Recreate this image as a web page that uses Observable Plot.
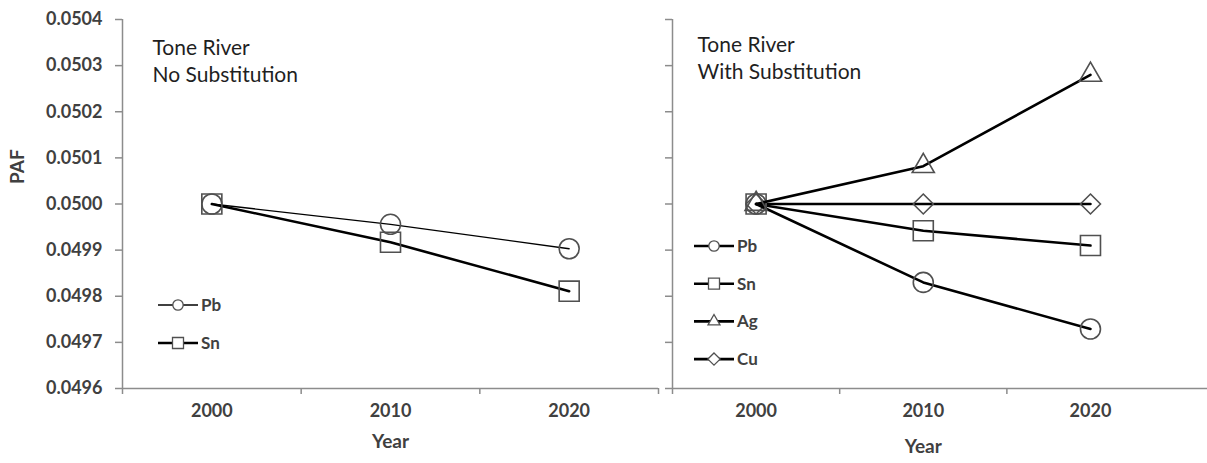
<!DOCTYPE html>
<html>
<head>
<meta charset="utf-8">
<script src="https://cdn.jsdelivr.net/npm/d3@7"></script>
<script src="https://cdn.jsdelivr.net/npm/@observablehq/plot@0.6"></script>
<style>
  html, body { margin: 0; padding: 0; background: #fff; overflow: hidden; }
  #chart { position: relative; width: 1207px; height: 463px; overflow: hidden; font-family: Lato, "Open Sans", sans-serif; }
  #chart > .panel { position: absolute; top: 0; max-width: none; }
  #legend { position: absolute; left: 0; top: 0; pointer-events: none; }
</style>
</head>
<body>
<div id="chart"></div>
<script>
// ---- data ----
const years = [2000, 2010, 2020];
const yTicks = [0.0496, 0.0497, 0.0498, 0.0499, 0.0500, 0.0501, 0.0502, 0.0503, 0.0504];
const xLabelTicks = [2000, 2010, 2020];

// Left panel: Tone River, No Substitution
const noSubPb = [0.0500, 0.049956, 0.049903];
const noSubSn = [0.0500, 0.049917, 0.049811];

// Right panel: Tone River, With Substitution
const subPb = [0.0500, 0.049830, 0.049729];
const subSn = [0.0500, 0.049942, 0.049910];
const subAg = [0.0500, 0.050082, 0.050280];
const subCu = [0.0500, 0.050000, 0.050000];

const leftTitle = "Tone River\nNo Substitution";
const rightTitle = "Tone River\nWith Substitution";

// ---- styling ----
const axisGray = "#8c8c8c";
const textGray = "#404040";
const markerStroke = "#505050";
const symbolR = {circle: 10, square: 11.3, triangle: 8.2, diamond2: 9};

function rows(vals, name) { return years.map((yr, i) => ({year: yr, value: vals[i], name})); }

function seriesMarks(vals, name, symbol, lineWidth) {
  const d = rows(vals, name);
  return [
    Plot.line(d, {x: "year", y: "value", stroke: "#000", strokeWidth: lineWidth}),
    Plot.dot(d, {x: "year", y: "value", symbol: symbol, r: symbolR[symbol], fill: "none", stroke: markerStroke, strokeWidth: 1.6})
  ];
}

function frameMarks(showLabels, xTickMarks, xDomain) {
  return [
    Plot.axisY({ticks: yTicks, tickSize: 7, tickPadding: 13, stroke: axisGray, strokeWidth: 1.5,
      tickFormat: showLabels ? d3.format(".4f") : () => "",
      fill: textGray, fontSize: 18, fontWeight: "bold", label: null}),
    Plot.axisX({ticks: xTickMarks, tickSize: 6, tickFormat: () => "", stroke: axisGray, strokeWidth: 1.5, label: null}),
    Plot.axisX({ticks: xLabelTicks, tickSize: 0, tickPadding: 16, tickFormat: d => String(d),
      fill: textGray, fontSize: 18, fontWeight: "bold", label: null}),
    Plot.ruleX([xDomain[0]], {stroke: axisGray, strokeWidth: 1.5}),
    Plot.ruleY([0.0496], {x1: xDomain[0], x2: xDomain[1], stroke: axisGray, strokeWidth: 1.5})
  ];
}

const common = {
  height: 463, marginTop: 19, marginBottom: 75,
  style: {background: "transparent", fontFamily: "Lato, 'Open Sans', sans-serif", overflow: "visible"},
  y: {domain: [0.0496, 0.0504]}
};

const leftDomain = [1995, 2025];
const rightDomain = [1995, 2027];

const left = Plot.plot({
  ...common,
  width: 670, marginLeft: 122, marginRight: 12,
  x: {domain: leftDomain},
  marks: [
    ...frameMarks(true, [1995, 2005, 2015, 2025], leftDomain),
    ...seriesMarks(noSubPb, "Pb", "circle", 1.3),
    ...seriesMarks(noSubSn, "Sn", "square", 2.6),
    Plot.text([leftTitle], {frameAnchor: "top-left", dx: 30, dy: 16, lineAnchor: "top", textAnchor: "start",
      fontSize: 21, fill: "#1f1f1f", lineHeight: 1.29}),
    Plot.text(["PAF"], {frameAnchor: "left", dx: -105, dy: -20, rotate: -90, fontSize: 19, fontWeight: "bold", fill: textGray}),
    Plot.text(["Year"], {frameAnchor: "bottom", dy: 59, fontSize: 19, fontWeight: "bold", fill: textGray})
  ]
});
left.classList.add("panel");
left.style.left = "0px";

const right = Plot.plot({
  ...common,
  width: 607, marginLeft: 72, marginRight: 0,
  x: {domain: rightDomain},
  marks: [
    ...frameMarks(false, [1995, 2005, 2015], rightDomain),
    ...seriesMarks(subCu, "Cu", "diamond2", 2.6),
    ...seriesMarks(subSn, "Sn", "square", 2.6),
    ...seriesMarks(subPb, "Pb", "circle", 2.6),
    ...seriesMarks(subAg, "Ag", "triangle", 2.6),
    Plot.text([rightTitle], {frameAnchor: "top-left", dx: 25, dy: 13, lineAnchor: "top", textAnchor: "start",
      fontSize: 21, fill: "#1f1f1f", lineHeight: 1.29}),
    Plot.text(["Year"], {x: [2010], frameAnchor: "bottom", dy: 64, fontSize: 19, fontWeight: "bold", fill: textGray})
  ]
});
right.classList.add("panel");
right.style.left = "600px";

const chart = document.getElementById("chart");
chart.appendChild(left);
chart.appendChild(right);

// ---- legends (inside the panels) ----
const legendLeft = {x: 158, y0: 305, step: 38, items: [["Pb", "circle", 1.3], ["Sn", "square", 2.6]]};
const legendRight = {x: 694, y0: 246, step: 37.7, items: [["Pb", "circle", 2.6], ["Sn", "square", 2.6], ["Ag", "triangle", 2.6], ["Cu", "diamond2", 2.6]]};
const d3sym = {circle: d3.symbolCircle, square: d3.symbolSquare, triangle: d3.symbolTriangle, diamond2: d3.symbolDiamond2};
const legendSize = {circle: 85, square: 121, triangle: 62, diamond2: 95};

const svg = d3.select(chart).append("svg").attr("id", "legend").attr("width", 1207).attr("height", 463);
for (const lg of [legendLeft, legendRight]) {
  lg.items.forEach(([name, sym, w], i) => {
    const y = lg.y0 + i * lg.step;
    const g = svg.append("g").attr("transform", `translate(${lg.x},${y})`);
    g.append("line").attr("x1", 0).attr("x2", 40).attr("y1", 0).attr("y2", 0).attr("stroke", "#000").attr("stroke-width", w);
    g.append("path").attr("transform", "translate(20,0)")
      .attr("d", d3.symbol(d3sym[sym], legendSize[sym])())
      .attr("fill", "#fff").attr("stroke", markerStroke).attr("stroke-width", 1.3);
    g.append("text").attr("x", 43).attr("y", 0).attr("dy", "0.35em")
      .attr("font-family", "Lato, 'Open Sans', sans-serif").attr("font-size", 17).attr("font-weight", "bold").attr("fill", textGray)
      .text(name);
  });
}
</script>
</body>
</html>
